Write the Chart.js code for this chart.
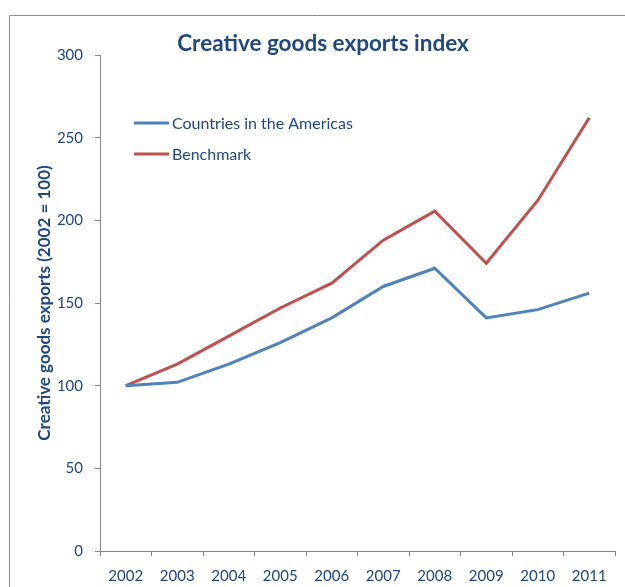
<!DOCTYPE html>
<html>
<head>
<meta charset="utf-8">
<script src="https://cdn.jsdelivr.net/npm/chart.js@4.4.0/dist/chart.umd.min.js"></script>
<style>
    html, body { margin: 0; padding: 0; background: #fff; overflow: hidden; }
    #chart { display: block; }
</style>
</head>
<body>
<canvas id="chart" width="625" height="587"></canvas>
<script>
// Index values, 2002 = 100
const years = ['2002', '2003', '2004', '2005', '2006', '2007', '2008', '2009', '2010', '2011'];
const americas = [100, 102, 113, 126, 141, 160, 171, 141, 146, 156];
const benchmark = [100, 113, 130, 147, 162, 188, 205.5, 174, 212, 262];
const seriesNames = ['Countries in the Americas', 'Benchmark'];

const chartTitle = 'Creative goods exports index';
const yTitle = 'Creative goods exports (2002 = 100)';

const TEXT = '#1F497D';
const AXIS = '#868686';
const FONT = 'Lato, "Open Sans", sans-serif';

// Outer frame: only the left and top edges fall inside the canvas
const frame = {
    id: 'frame',
    beforeDraw(chart) {
        const { ctx } = chart;
        ctx.save();
        ctx.fillStyle = '#fff';
        ctx.fillRect(0, 0, chart.width, chart.height);
        ctx.strokeStyle = '#8e8e8e';
        ctx.lineWidth = 1;
        ctx.beginPath();
        ctx.moveTo(9.5, chart.height);
        ctx.lineTo(9.5, 15.5);
        ctx.lineTo(chart.width, 15.5);
        ctx.stroke();
        ctx.restore();
    }
};

// Title and in-plot legend drawn on top of the chart
const overlay = {
    id: 'overlay',
    afterDraw(chart) {
        const { ctx } = chart;
        ctx.save();
        ctx.fillStyle = TEXT;
        ctx.font = `bold 22.5px ${FONT}`;
        ctx.textAlign = 'center';
        ctx.textBaseline = 'middle';
        ctx.fillText(chartTitle, 323, 44);

        ctx.textAlign = 'left';
        ctx.font = `16px ${FONT}`;
        chart.data.datasets.forEach((ds, i) => {
            const y = 123 + i * 31;
            ctx.strokeStyle = ds.borderColor;
            ctx.lineWidth = 3;
            ctx.beginPath();
            ctx.moveTo(134, y);
            ctx.lineTo(169, y);
            ctx.stroke();
            ctx.fillText(ds.label, 172, y + 1);
        });
        ctx.restore();
    }
};

const ctx = document.getElementById('chart').getContext('2d');
new Chart(ctx, {
    type: 'line',
    data: {
        labels: years,
        datasets: [
            {
                label: seriesNames[0],
                data: americas,
                borderColor: '#4F81BD',
                borderWidth: 3,
                pointRadius: 0,
                tension: 0,
                fill: false
            },
            {
                label: seriesNames[1],
                data: benchmark,
                borderColor: '#C0504D',
                borderWidth: 3,
                pointRadius: 0,
                tension: 0,
                fill: false
            }
        ]
    },
    options: {
        responsive: false,
        animation: false,
        layout: { padding: { top: 55, right: 10, left: 0, bottom: 0 } },
        plugins: {
            legend: { display: false },
            title: { display: false },
            tooltip: { enabled: false }
        },
        scales: {
            x: {
                offset: true,
                grid: { offset: true, drawOnChartArea: false, drawTicks: true, tickLength: 5, color: AXIS },
                border: { color: AXIS, width: 1 },
                ticks: { color: TEXT, font: { family: FONT, size: 15 }, padding: 11, maxRotation: 0 },
                afterFit: (s) => { s.height = 36; }
            },
            y: {
                min: 0,
                max: 300,
                grid: { drawOnChartArea: false, drawTicks: true, tickLength: 5, color: AXIS },
                border: { color: AXIS, width: 1 },
                ticks: { stepSize: 50, color: TEXT, font: { family: FONT, size: 15 }, padding: 12 },
                title: {
                    display: true,
                    text: yTitle,
                    color: TEXT,
                    font: { family: FONT, size: 17, weight: 'bold' },
                    padding: { top: 34, bottom: 0 }
                },
                afterFit: (s) => { s.width = 100; }
            }
        }
    },
    plugins: [frame, overlay]
});
</script>
</body>
</html>
